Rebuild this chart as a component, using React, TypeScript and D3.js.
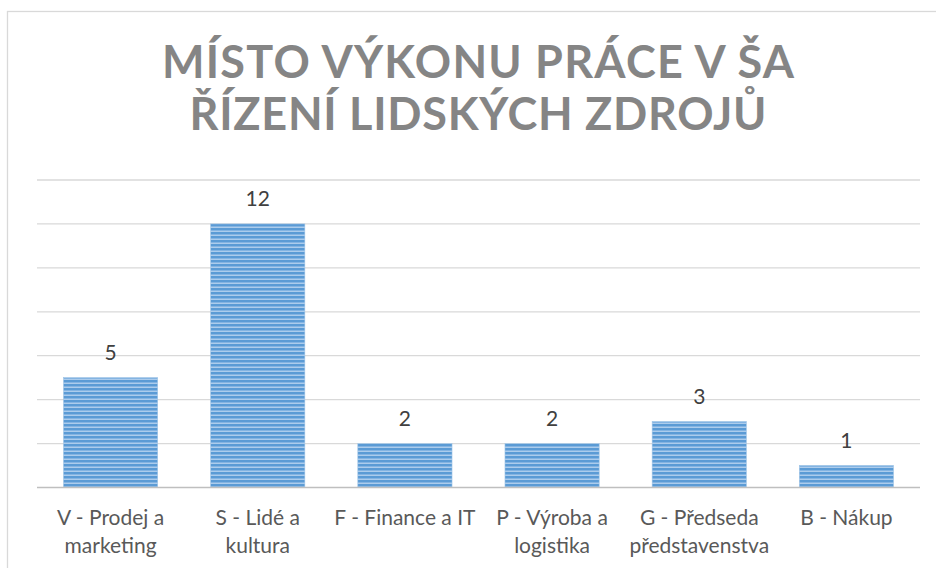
import React, { useEffect, useRef } from "react";
import * as d3 from "d3";

const titleLines = ["MÍSTO VÝKONU PRÁCE V ŠA", "ŘÍZENÍ LIDSKÝCH ZDROJŮ"];
const categories = [
  "V - Prodej a marketing",
  "S - Lidé a kultura",
  "F - Finance a IT",
  "P - Výroba a logistika",
  "G - Předseda představenstva",
  "B - Nákup",
];
const values = [5, 12, 2, 2, 3, 1];
const gridTicks = [0, 2, 4, 6, 8, 10, 12, 14];

const W = 936;
const H = 568;

export default function App() {
  const ref = useRef<SVGSVGElement | null>(null);

  useEffect(() => {
    const svg = d3.select(ref.current);
    svg.selectAll("*").remove();

    const defs = svg.append("defs");
    const pat = defs
      .append("pattern")
      .attr("id", "stripes")
      .attr("patternUnits", "userSpaceOnUse")
      .attr("width", 8)
      .attr("height", 4);
    pat.append("rect").attr("x", 0).attr("y", 0).attr("width", 8).attr("height", 4).attr("fill", "#acccec");
    pat.append("rect").attr("x", 0).attr("y", 0).attr("width", 8).attr("height", 2).attr("fill", "#5b9bd5");
    pat.append("rect").attr("x", 0).attr("y", 2).attr("width", 8).attr("height", 1).attr("fill", "#84b4e2");

    // chart border
    svg
      .append("rect")
      .attr("x", 7.5)
      .attr("y", 11.5)
      .attr("width", W + 20)
      .attr("height", H + 20)
      .attr("fill", "#ffffff")
      .attr("stroke", "#d9d9d9")
      .attr("stroke-width", 1.3);

    // title
    const titleLen = [632, 577];
    const titleY = [78, 130];
    titleLines.forEach((t, i) => {
      svg
        .append("text")
        .attr("x", 478)
        .attr("y", titleY[i])
        .attr("text-anchor", "middle")
        .attr("font-family", "Lato, 'Open Sans', sans-serif")
        .attr("font-weight", 700)
        .attr("font-size", 45)
        .attr("fill", "#858585")
        .attr("textLength", titleLen[i])
        .attr("lengthAdjust", "spacing")
        .text(t);
    });

    const x = d3
      .scaleBand<string>()
      .domain(categories)
      .range([37, 920])
      .paddingInner(0.36)
      .paddingOuter(0.18);
    const y = d3.scaleLinear().domain([0, 14]).range([487.5, 180]);

    // gridlines
    svg
      .append("g")
      .selectAll("line")
      .data(gridTicks.filter((d) => d !== 0))
      .join("line")
      .attr("x1", 37)
      .attr("x2", 920)
      .attr("y1", (d) => y(d))
      .attr("y2", (d) => y(d))
      .attr("stroke", "#d9d9d9")
      .attr("stroke-width", 1.3);

    // bars
    svg
      .append("g")
      .selectAll("rect")
      .data(categories)
      .join("rect")
      .attr("x", (d) => x(d)!)
      .attr("width", x.bandwidth())
      .attr("y", (d, i) => y(values[i]))
      .attr("height", (d, i) => y(0) - y(values[i]))
      .attr("fill", "url(#stripes)")
      .attr("stroke", "#9dc3e6")
      .attr("stroke-width", 0.6);

    // axis line
    svg
      .append("line")
      .attr("x1", 37)
      .attr("x2", 920)
      .attr("y1", y(0))
      .attr("y2", y(0))
      .attr("stroke", "#bfbfbf")
      .attr("stroke-width", 1.6);

    // data labels
    svg
      .append("g")
      .selectAll("text")
      .data(categories)
      .join("text")
      .attr("x", (d) => x(d)! + x.bandwidth() / 2)
      .attr("y", (d, i) => y(values[i]) - 18)
      .attr("text-anchor", "middle")
      .attr("font-family", "Lato, 'Open Sans', sans-serif")
      .attr("font-size", 21)
      .attr("fill", "#404040")
      .text((d, i) => String(values[i]));

    // category labels with wrapping
    const maxW = 145;
    const lab = svg.append("g");
    categories.forEach((c) => {
      const cx = x(c)! + x.bandwidth() / 2;
      const t = lab
        .append("text")
        .attr("x", cx)
        .attr("y", 525)
        .attr("text-anchor", "middle")
        .attr("font-family", "Lato, 'Open Sans', sans-serif")
        .attr("font-size", 21)
        .attr("fill", "#595959");
      const words = c.split(" ");
      const lines: string[] = [];
      let cur = "";
      const measure = t.append("tspan");
      words.forEach((w) => {
        const test = cur ? cur + " " + w : w;
        measure.text(test);
        const len = (measure.node() as SVGTSpanElement).getComputedTextLength();
        if (len > maxW && cur) {
          lines.push(cur);
          cur = w;
        } else {
          cur = test;
        }
      });
      if (cur) lines.push(cur);
      measure.remove();
      lines.forEach((ln, i) => {
        t.append("tspan")
          .attr("x", cx)
          .attr("dy", i === 0 ? 0 : 28)
          .text(ln);
      });
    });
  }, []);

  return (
    <svg
      ref={ref}
      width={W}
      height={H}
      style={{ position: "absolute", left: 0, top: 0, display: "block" }}
    />
  );
}
